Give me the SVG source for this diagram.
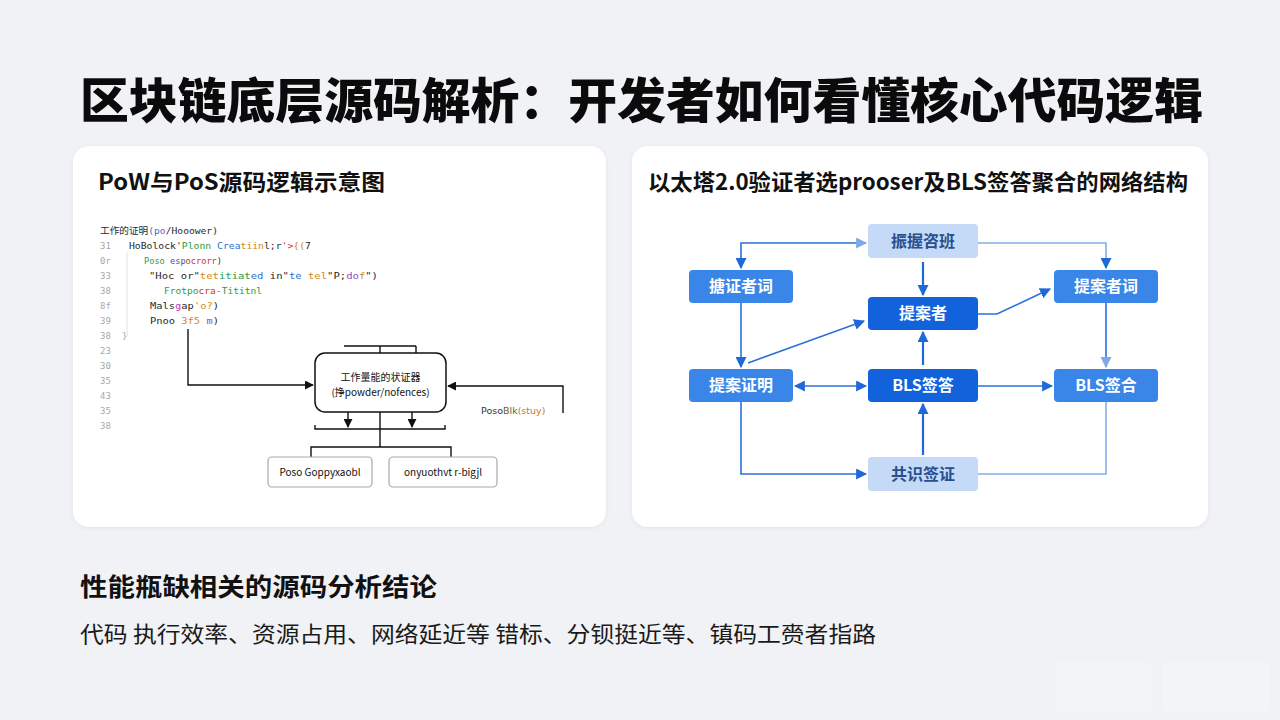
<svg xmlns="http://www.w3.org/2000/svg" width="1280" height="720" viewBox="0 0 1280 720">
<defs>
  <filter id="sh" x="-5%" y="-5%" width="110%" height="110%">
    <feDropShadow dx="0" dy="1" stdDeviation="2" flood-color="#000" flood-opacity="0.06"/>
  </filter>
  <marker id="ab" viewBox="0 0 10 10" refX="9" refY="5" markerWidth="9" markerHeight="9" markerUnits="userSpaceOnUse" orient="auto-start-reverse">
    <path d="M0,0 L10,5 L0,10 z" fill="#111"/>
  </marker>
  <marker id="au" viewBox="0 0 10 10" refX="9" refY="5" markerWidth="11" markerHeight="11" markerUnits="userSpaceOnUse" orient="auto-start-reverse">
    <path d="M0,0 L10,5 L0,10 z" fill="#1f68d8"/>
  </marker>
  <marker id="al" viewBox="0 0 10 10" refX="9" refY="5" markerWidth="11" markerHeight="11" markerUnits="userSpaceOnUse" orient="auto-start-reverse">
    <path d="M0,0 L10,5 L0,10 z" fill="#7fa9e6"/>
  </marker>
</defs>
<style>
  .title{font-family:"Noto Sans CJK SC","Liberation Sans",sans-serif;font-weight:900;fill:#0b0b0b}
  .h2{font-family:"Noto Sans CJK SC","Liberation Sans",sans-serif;font-weight:700;fill:#111}
  .body{font-family:"Noto Sans CJK SC","Liberation Sans",sans-serif;font-weight:400;fill:#1a1a1a}
  .card{fill:#fff;filter:url(#sh)}
  .code{font-family:"DejaVu Sans Mono","Liberation Mono","Noto Sans CJK SC",monospace;font-size:9.5px;fill:#2a2a2a}
  .ln{font-family:"DejaVu Sans Mono","Liberation Mono",monospace;font-size:9px;fill:#a8a8a8}
  .fl{fill:none;stroke:#111;stroke-width:1.4}
  .fbox{fill:#fff;stroke:#111;stroke-width:1.5}
  .gbox{fill:#fff;stroke:#a9a9a9;stroke-width:1.2}
  .ft{font-family:"Noto Sans CJK SC","Liberation Sans",sans-serif;font-size:10px;fill:#111;text-anchor:middle}
  .nm{fill:#3a86e8}
  .nd{fill:#1262dc}
  .nl{fill:#c4daf6}
  .nt{font-family:"Noto Sans CJK SC","Liberation Sans",sans-serif;font-size:16px;font-weight:700;fill:#fff;text-anchor:middle}
  .ntl{fill:#2a4f90}
  .cm{fill:none;stroke:#2a72da;stroke-width:1.6}
  .cl{fill:none;stroke:#84aee8;stroke-width:1.6}
  .cd{fill:none;stroke:#1f68d8;stroke-width:2.2}
</style>
<rect width="1280" height="720" fill="#f0f2f5"/>
<g>
  <rect x="1055" y="662" width="96" height="50" rx="3" fill="#f2f4f7"/>
  <rect x="1162" y="662" width="108" height="50" rx="3" fill="#f2f4f7"/>
</g>

<text class="title" x="80" y="118" font-size="48" textLength="1123" lengthAdjust="spacingAndGlyphs">区块链底层源码解析：开发者如何看懂核心代码逻辑</text>

<rect class="card" x="73" y="146" width="533" height="381" rx="16"/>
<rect class="card" x="632" y="146" width="576" height="381" rx="16"/>

<text class="h2" x="98" y="190" font-size="22" textLength="287" lengthAdjust="spacingAndGlyphs">PoW与PoS源码逻辑示意图</text>
<text class="h2" x="648" y="190" font-size="22" textLength="540" lengthAdjust="spacingAndGlyphs">以太塔2.0验证者选prooser及BLS签答聚合的网络结构</text>

<!-- code listing -->
<g id="code">
  <line x1="127" y1="252" x2="127" y2="336" stroke="#e2e2e2" stroke-width="1"/>
  <text class="code" x="100" y="233.5" textLength="118" lengthAdjust="spacingAndGlyphs">工作的证明<tspan fill="#2f6fd0">(p</tspan><tspan fill="#8a4fc0">o</tspan>/Hooower)</text>
  <text class="ln" x="100" y="248.5">31</text>
  <text class="code" x="129" y="248.5" textLength="182" lengthAdjust="spacingAndGlyphs">HoBolock'<tspan fill="#2e9a3e">Plonn </tspan><tspan fill="#2f6fd0">Crea</tspan><tspan fill="#d08a1a">tiin</tspan>l;r<tspan fill="#d0302a">'&gt;</tspan><tspan fill="#d08a1a">{(</tspan>7</text>
  <text class="ln" x="100" y="263.5">0r</text>
  <text class="code" x="144" y="263.5" textLength="78" lengthAdjust="spacingAndGlyphs"><tspan fill="#2e9a3e">Poso </tspan><tspan fill="#2f5ab0">esp</tspan><tspan fill="#d0302a">ocrorr</tspan>)</text>
  <text class="ln" x="100" y="278.5">33</text>
  <text class="code" x="149" y="278.5" textLength="229" lengthAdjust="spacingAndGlyphs">"Hoc or"<tspan fill="#d08a1a">tet</tspan><tspan fill="#2e9a3e">itiat</tspan><tspan fill="#2f6fd0">ed</tspan> in"<tspan fill="#2f6fd0">te </tspan><tspan fill="#d08a1a">tel</tspan>"P;<tspan fill="#8a4fc0">do</tspan><tspan fill="#d08a1a">f</tspan>")</text>
  <text class="ln" x="100" y="293.5">38</text>
  <text class="code" x="164" y="293.5" textLength="98" lengthAdjust="spacingAndGlyphs"><tspan fill="#2e9a3e">Frotpo</tspan><tspan fill="#d0302a">cra</tspan><tspan fill="#2e9a3e">-Tititnl</tspan></text>
  <text class="ln" x="100" y="308.5">8f</text>
  <text class="code" x="150" y="308.5" textLength="69" lengthAdjust="spacingAndGlyphs">Mals<tspan fill="#c03ac0">g</tspan>ap<tspan fill="#d08a1a">'o?</tspan>)</text>
  <text class="ln" x="100" y="323.5">39</text>
  <text class="code" x="150" y="323.5" textLength="69" lengthAdjust="spacingAndGlyphs">Pnoo <tspan fill="#d08a1a">3f5</tspan> <tspan fill="#8a4fc0">m</tspan>)</text>
  <text class="ln" x="100" y="338.5">38</text>
  <text class="ln" x="122" y="338.5">}</text>
  <text class="ln" x="100" y="353.5">23</text>
  <text class="ln" x="100" y="368.5">30</text>
  <text class="ln" x="100" y="383.5">35</text>
  <text class="ln" x="100" y="398.5">43</text>
  <text class="ln" x="100" y="413.5">35</text>
  <text class="ln" x="100" y="428.5">38</text>
</g>

<!-- left flowchart connectors -->
<g id="left-connectors">
  <polyline class="fl" points="344,346 416,346"/>
  <line class="fl" x1="380" y1="346" x2="380" y2="353"/>
  <line class="fl" x1="416" y1="346" x2="416" y2="353"/>
  <polyline class="fl" points="188,329 188,385 313,385" marker-end="url(#ab)"/>
  <polyline class="fl" points="563,413 563,386 448,386" marker-end="url(#ab)"/>
  <line class="fl" x1="348" y1="412" x2="348" y2="427" marker-end="url(#ab)"/>
  <line class="fl" x1="412" y1="412" x2="412" y2="427" marker-end="url(#ab)"/>
  <polyline class="fl" points="315,425 315,429 445,429 445,425"/>
  <line class="fl" x1="380" y1="412" x2="380" y2="447"/>
  <polyline class="fl" points="311,458 311,447 451,447 451,458"/>
</g>
<g id="node-pow">
  <rect class="fbox" x="315" y="353" width="131" height="59" rx="10"/>
  <text class="ft" x="380.5" y="381">工作量能的状证器</text>
  <text class="ft" x="380.5" y="396">(挣powder/nofences)</text>
</g>
<g id="label-pos">
  <text x="481" y="414" font-family="DejaVu Sans,Liberation Sans,sans-serif" font-size="9.5" fill="#333">Poso<tspan fill="#6b5a2a">Blk</tspan><tspan fill="#d07a1a">(stuy)</tspan></text>
</g>
<g id="node-b1">
  <rect class="gbox" x="268" y="457" width="104" height="30" rx="4"/>
  <text class="ft" x="320" y="476" font-family="DejaVu Sans Mono,Liberation Mono,monospace" font-size="10">Poso Goppyxaobl</text>
</g>
<g id="node-b2">
  <rect class="gbox" x="389" y="457" width="108" height="30" rx="4"/>
  <text class="ft" x="443" y="476" font-family="DejaVu Sans Mono,Liberation Mono,monospace" font-size="10">onyuothvt r-bigjl</text>
</g>

<!-- right network connectors -->
<g id="right-connectors">
  <polyline class="cm" points="741,268 741,243 866,243" marker-start="url(#au)" marker-end="url(#al)"/>
  <polyline class="cl" points="978,243 1106,243 1106,268" marker-end="url(#au)"/>
  <line class="cd" x1="923" y1="262" x2="923" y2="295" marker-end="url(#au)"/>
  <polyline class="cm" points="978,314 997,314 1050,289" marker-end="url(#au)"/>
  <line class="cm" x1="748" y1="363" x2="864" y2="321" marker-end="url(#au)"/>
  <line class="cm" x1="741" y1="303" x2="741" y2="367" marker-end="url(#au)"/>
  <line class="cm" x1="795" y1="386" x2="866" y2="386" marker-start="url(#au)" marker-end="url(#au)"/>
  <line class="cd" x1="923" y1="365" x2="923" y2="332" marker-end="url(#au)"/>
  <line class="cm" x1="978" y1="386" x2="1052" y2="386" marker-end="url(#au)"/>
  <line class="cm" x1="1106" y1="303" x2="1106" y2="367" marker-end="url(#al)"/>
  <polyline class="cm" points="741,402 741,474 866,474" marker-end="url(#au)"/>
  <line class="cd" x1="923" y1="455" x2="923" y2="404" marker-end="url(#au)"/>
  <polyline class="cl" points="978,474 1106,474 1106,402"/>
</g>
<g id="n-top"><rect class="nl" x="868" y="224" width="110" height="34" rx="4"/><text class="nt ntl" x="923" y="247">振握咨班</text></g>
<g id="n-lt"><rect class="nm" x="689" y="270" width="104" height="33" rx="4"/><text class="nt" x="741" y="292">搪证者词</text></g>
<g id="n-prop"><rect class="nd" x="868" y="297" width="110" height="33" rx="4"/><text class="nt" x="923" y="319">提案者</text></g>
<g id="n-rt"><rect class="nm" x="1054" y="270" width="104" height="33" rx="4"/><text class="nt" x="1106" y="292">提案者词</text></g>
<g id="n-lm"><rect class="nm" x="689" y="369" width="104" height="33" rx="4"/><text class="nt" x="741" y="391">提案证明</text></g>
<g id="n-bls"><rect class="nd" x="868" y="369" width="110" height="33" rx="4"/><text class="nt" x="923" y="391">BLS签答</text></g>
<g id="n-rm"><rect class="nm" x="1054" y="369" width="104" height="33" rx="4"/><text class="nt" x="1106" y="391">BLS签合</text></g>
<g id="n-bot"><rect class="nl" x="868" y="457" width="110" height="34" rx="4"/><text class="nt ntl" x="923" y="480">共识签证</text></g>

<text class="h2" x="80" y="596" font-size="25" textLength="357" lengthAdjust="spacingAndGlyphs">性能瓶缺相关的源码分析结论</text>
<text class="body" x="80" y="642" font-size="22" textLength="796" lengthAdjust="spacingAndGlyphs">代码 执行效率、资源占用、网络延近等 错标、分钡挺近等、镇码工赍者指路</text>
</svg>
